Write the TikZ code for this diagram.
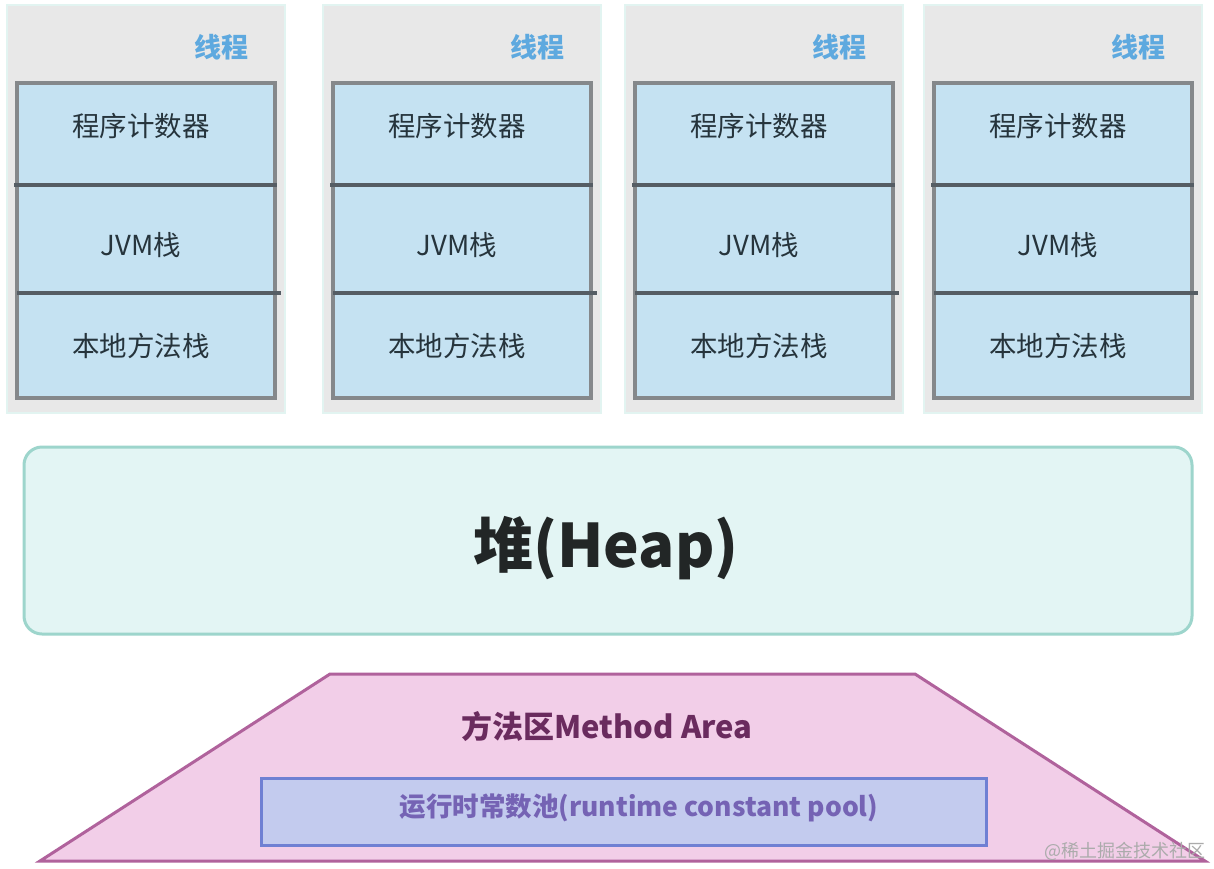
\documentclass[tikz,border=0pt]{standalone}
\usepackage{fontspec}
\setmainfont{Noto Sans CJK SC}
\begin{document}
\begin{tikzpicture}[x=1pt,y=-1pt,
  panelbg/.style={draw=panelborder,line width=2pt,fill=panelgray,inner sep=0pt},
  cellbox/.style={draw=boxgray,line width=3.2pt,fill=cellblue,inner sep=0pt,minimum width=258pt,minimum height=315pt},
  divider/.style={draw=divgray,line width=3.2pt},
  celltext/.style={text=celltxt,font=\fontsize{27.5}{31}\selectfont},
  titletext/.style={text=titleblue,font=\bfseries\fontsize{27}{31}\selectfont},
]
\definecolor{panelgray}{HTML}{E8E8E8}
\definecolor{panelborder}{HTML}{E2F4F1}
\definecolor{boxgray}{HTML}{85888B}
\definecolor{cellblue}{HTML}{C5E2F2}
\definecolor{divgray}{HTML}{555D64}
\definecolor{celltxt}{HTML}{26343C}
\definecolor{titleblue}{HTML}{5EA9DF}
\definecolor{heapfill}{HTML}{E3F5F4}
\definecolor{heapborder}{HTML}{9DD5CC}
\definecolor{heaptxt}{HTML}{222626}
\definecolor{mafill}{HTML}{F2CEE8}
\definecolor{maborder}{HTML}{B0629C}
\definecolor{matxt}{HTML}{6A2B5E}
\definecolor{poolfill}{HTML}{C3CBEE}
\definecolor{poolborder}{HTML}{6F80D3}
\definecolor{pooltxt}{HTML}{7563B4}
\definecolor{wmgray}{HTML}{ABABAB}

\useasboundingbox (0,0) rectangle (1214,868);
\fill[white] (0,0) rectangle (1214,868);

\foreach \i/\bx in {1/17,2/333,3/635,4/934}{
  \node[panelbg,minimum width=278pt,minimum height=408pt] (panel\i) at (\bx+129,209) {};
  \node[cellbox] (box\i) at (\bx+129,240.5) {};
  \node[titletext] (title\i) at (\bx+204,47) {线程};
  \coordinate (d1l\i) at (\bx-3,185);
  \coordinate (d1r\i) at (\bx+260,185);
  \coordinate (d2l\i) at (\bx,293);
  \coordinate (d2r\i) at (\bx+264,293);
  \draw[divider] (d1l\i) -- (d1r\i);
  \draw[divider] (d2l\i) -- (d2r\i);
  \node[celltext] (pc\i) at (\bx+124,126) {程序计数器};
  \node[celltext] (jvm\i) at (\bx+124,245) {JVM栈};
  \node[celltext] (nat\i) at (\bx+124,346) {本地方法栈};
}

\node[draw=heapborder,line width=3pt,fill=heapfill,rounded corners=18pt,
  minimum width=1168pt,minimum height=187pt,inner sep=0pt] (heap) at (608,540.5) {};
\node[text=heaptxt,font=\bfseries\fontsize{60}{64}\selectfont] (heaplabel) at (606,548) {堆(Heap)};

\coordinate (tl) at (330,674);
\coordinate (tr) at (915,674);
\coordinate (br) at (1205,861);
\coordinate (bl) at (40,861);
\draw[maborder,fill=mafill,line width=3pt,line join=miter] (tl) -- (tr) -- (br) -- (bl) -- cycle;
\node[text=matxt,font=\bfseries\fontsize{31}{35}\selectfont] (malabel) at (607,727) {方法区Method Area};

\node[draw=poolborder,line width=3pt,fill=poolfill,minimum width=725pt,minimum height=67pt,inner sep=0pt] (pool) at (623.5,811.5) {};
\node[text=pooltxt,font=\bfseries\fontsize{26.5}{30}\selectfont] (poollabel) at (639,808) {运行时常数池(runtime constant pool)};

\node[text=wmgray,font=\fontsize{18}{21}\selectfont,anchor=east] (wm) at (1209,851) {@稀土掘金技术社区};
\end{tikzpicture}
\end{document}
